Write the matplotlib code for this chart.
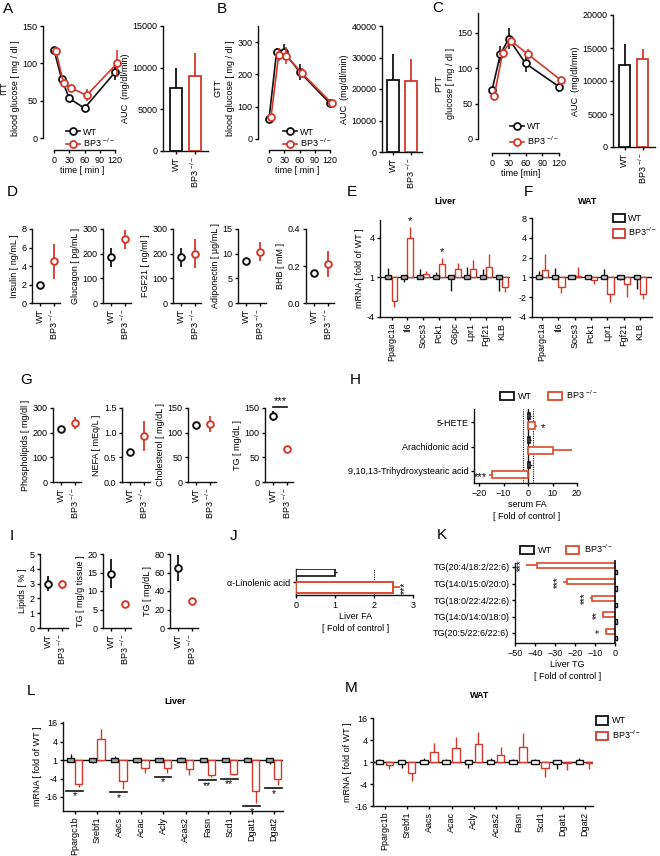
import numpy as np
import matplotlib
matplotlib.use('Agg')
import matplotlib.pyplot as plt
from matplotlib.patches import Patch
from matplotlib.lines import Line2D

plt.rcParams['font.family'] = ['Liberation Sans', 'DejaVu Sans']
plt.rcParams['mathtext.fontset'] = 'custom'
plt.rcParams['mathtext.rm'] = 'Liberation Sans'
plt.rcParams['mathtext.it'] = 'Liberation Sans:italic'
plt.rcParams['mathtext.bf'] = 'Liberation Sans:bold'
plt.rcParams['font.size'] = 6.5
plt.rcParams['axes.linewidth'] = 1.0
plt.rcParams['axes.edgecolor'] = '#111111'
plt.rcParams['xtick.major.width'] = 1.0
plt.rcParams['ytick.major.width'] = 1.0
plt.rcParams['xtick.major.size'] = 2.5
plt.rcParams['ytick.major.size'] = 2.5
plt.rcParams['xtick.major.pad'] = 1.5
plt.rcParams['ytick.major.pad'] = 1.5
plt.rcParams['axes.labelpad'] = 2

W, H = 660, 856
K = '#111111'
R = '#d4382c'
R2 = '#dc4a2c'
BP3 = 'BP3 $^{-/-}$'
BP3_SHIFT = 4

# ---------------- data ----------------
time_min = [0, 15, 30, 60, 120]
itt_wt = [118, 79, 53, 40, 88]
itt_wt_err = [3, 5, 3, 3, 10]
itt_bp3 = [116, 73, 67, 57, 100]
itt_bp3_err = [6, 4, 3, 8, 18]
itt_auc = [7600, 9000]
itt_auc_err = [2300, 2700]

gtt_wt = [62, 270, 268, 208, 110]
gtt_wt_err = [3, 10, 25, 25, 8]
gtt_bp3 = [68, 260, 258, 205, 110]
gtt_bp3_err = [4, 20, 25, 15, 6]
gtt_auc = [23000, 22500]
gtt_auc_err = [8000, 7000]

ptt_wt = [69, 120, 142, 107, 74]
ptt_wt_err = [4, 12, 15, 12, 8]
ptt_bp3 = [61, 122, 139, 120, 83]
ptt_bp3_err = [3, 4, 6, 8, 3]
ptt_auc = [12500, 13300]
ptt_auc_err = [3100, 1500]

d_labels = ['Insulin [ ng/mL ]', 'Glucagon [ pg/mL ]', 'FGF21 [ ng/ml ]',
            'Adiponectin [ \u00b5g/mL ]', 'BHB [ mM ]']
d_wt = [2.0, 185, 185, 8.6, 0.16]
d_wt_err = [0.2, 40, 40, 0.6, 0.01]
d_bp3 = [4.5, 258, 200, 10.4, 0.21]
d_bp3_err = [1.9, 38, 60, 1.9, 0.07]

g_labels = ['Phospholipids [ mg/dl ]', 'NEFA [ mEq/L ]', 'Cholesterol [ mg/dL ]', 'TG [ mg/dL ]']
g_wt = [213, 0.6, 115, 133]
g_wt_err = [6, 0.03, 5, 10]
g_bp3 = [238, 0.93, 118, 67]
g_bp3_err = [25, 0.3, 16, 6]

i_labels = ['Lipids [ % ]', 'TG [ mg/g tissue ]', 'TG [ mg/dL ]']
i_wt = [3.0, 14.7, 65]
i_wt_err = [0.5, 4, 14]
i_bp3 = [2.95, 6.6, 29]
i_bp3_err = [0.3, 0.3, 2]

# mRNA, log2 fold of WT (bar end, error-bar tip)
e_genes = ['Ppargc1a', 'Il6', 'Socs3', 'Pck1', 'G6pc', 'Lpr1', 'Fgf21', 'KLB']
e_wt = [0.0, 0.0, 0.0, 0.0, 0.0, 0.0, 0.0, 0.0]
e_wt_tip = [0.5, -0.25, 0.4, 0.25, -0.7, 0.55, 0.45, -0.7]
e_bp3 = [-1.2, 2.0, 0.15, 0.7, 0.4, 0.4, 0.55, -0.5]
e_bp3_tip = [-1.5, 2.55, 0.3, 1.0, 0.75, 0.9, 1.2, -0.75]
e_sig = ['', '*', '', '*', '', '', '', '']

f_genes = ['Ppargc1a', 'Il6', 'Socs3', 'Pck1', 'Lpr1', 'Fgf21', 'KLB']
f_wt = [0.0, 0.0, 0.0, 0.0, 0.0, 0.0, 0.0]
f_wt_tip = [0.3, 0.45, 0.0, 0.0, 0.4, -0.15, -0.6]
f_bp3 = [0.35, -0.5, 0.05, -0.15, -0.85, -0.35, -0.85]
f_bp3_tip = [1.2, -0.8, 0.55, -0.35, -1.25, -1.0, -1.1]

l_genes = ['Ppargc1b', 'Srebf1', 'Aacs', 'Acac', 'Acly', 'Acas2', 'Fasn', 'Scd1', 'Dgat1', 'Dgat2']
l_wt = [0.0] * 10
l_wt_tip = [0.65, -0.3, 0.4, -0.3, 0.1, 0.3, -0.2, 0.1, 0.3, -0.4]
l_bp3 = [-2.55, 2.25, -2.3, -0.85, -0.85, -1.0, -1.6, -1.5, -3.4, -2.0]
l_bp3_tip = [-2.9, 3.4, -3.1, -1.4, -1.4, -1.6, -1.8, -1.65, -4.6, -2.65]
l_sig = ['*', '', '*', '', '*', '', '**', '**', '*', '*']

m_genes = l_genes
m_wt = [0.0] * 10
m_wt_tip = [0.3, -0.5, 0.4, 0.3, -0.55, 0.4, 0.3, 0.3, -0.6, 0.4]
m_bp3 = [-0.3, -1.0, 0.9, 1.3, 1.65, 0.65, 1.4, -0.55, -0.1, -0.05]
m_bp3_tip = [-0.6, -1.75, 1.7, 2.25, 2.7, 1.4, 2.6, -1.35, -0.75, -0.65]

h_names = ['5-HETE', 'Arachidonic acid', '9,10,13-Trihydroxystearic acid']
h_wt = [1.0, 1.0, 1.0]
h_wt_err = [0.4, 0.4, 0.6]
h_bp3 = [2.9, 10.3, -14.5]
h_bp3_err = [0.8, 7.7, 1.5]
h_sig = ['*', '', '***']

j_names = ['\u03b1-Linolenic acid']
j_wt = [1.0]
j_wt_err = [0.06]
j_bp3 = [2.48]
j_bp3_err = [0.18]
j_sig = ['***']

k_names = ['TG(20:4/18:2/22:6)', 'TG(14:0/15:0/20:0)', 'TG(18:0/22:4/22:6)',
           'TG(14:0/14:0/18:0)', 'TG(20:5/22:6/22:6)']
k_wt = [1.0, 1.0, 1.0, 1.0, 1.0]
k_bp3 = [-39, -24, -11.5, -6, -4.5]
k_bp3_err = [5.5, 2, 1, 0.5, 0.5]
k_sig = ['***', '***', '***', '**', '*']

# ---------------- helpers ----------------
fig = plt.figure(figsize=(W / 100, H / 100), dpi=100)


def make_ax(box, xcal, ycal):
    x0, y0, x1, y1 = box
    ax = fig.add_axes([x0 / W, 1 - y1 / H, (x1 - x0) / W, (y1 - y0) / H])
    (xv1, xp1), (xv2, xp2) = xcal
    sx = (xp2 - xp1) / (xv2 - xv1)
    ax.set_xlim(xv1 + (x0 - xp1) / sx, xv1 + (x1 - xp1) / sx)
    (yv1, yp1), (yv2, yp2) = ycal
    sy = (yp2 - yp1) / (yv2 - yv1)
    ax.set_ylim(yv1 + (y1 - yp1) / sy, yv1 + (y0 - yp1) / sy)
    for s in ('top', 'right'):
        ax.spines[s].set_visible(False)
    ax.patch.set_alpha(0)
    return ax


def ftxt(x, y, s, **kw):
    fig.text(x / W, 1 - y / H, s, **kw)


def letter(x, y, s):
    ftxt(x, y, s, fontsize=11, ha='left', va='center')


def fig_legend(ax, handles, labels, x, y, **kw):
    opts = dict(loc='center left', bbox_to_anchor=(x / W, 1 - y / H),
                bbox_transform=fig.transFigure, frameon=False, borderpad=0,
                borderaxespad=0, fontsize=6.5)
    opts.update(kw)
    ax.legend(handles, labels, **opts)


def sq(c):
    return Patch(facecolor='white', edgecolor=c, lw=1.3)


def mk(c):
    return Line2D([], [], color=c, marker='o', ms=5, mfc='white', mec=c, mew=1.3, lw=1.2)


def time_panel(box, xcal, ycal, yticks, wt, wte, bp, bpe, ylabel, xlabel, leg_xy, lsp):
    ax = make_ax(box, xcal, ycal)
    t = np.array(time_min, float)
    ax.errorbar(t, wt, yerr=wte, color=K, lw=1.2, elinewidth=1.2, capsize=0, marker='o',
                ms=5, mfc='white', mec=K, mew=1.3, zorder=3, clip_on=False)
    ax.errorbar(t + BP3_SHIFT, bp, yerr=bpe, color=R, lw=1.2, elinewidth=1.2, capsize=0,
                marker='o', ms=5, mfc='white', mec=R, mew=1.3, zorder=4, clip_on=False)
    ax.spines['left'].set_bounds(0, ax.get_ylim()[1])
    ax.spines['bottom'].set_bounds(0, 120)
    ax.set_xticks([0, 30, 60, 90, 120])
    ax.set_yticks(yticks)
    ax.set_ylabel(ylabel, linespacing=1.4)
    ax.set_xlabel(xlabel, labelpad=1)
    fig_legend(ax, [mk(K), mk(R)], ['WT', BP3], leg_xy[0], leg_xy[1],
               handlelength=1.5, handletextpad=0.4, labelspacing=lsp)
    return ax


def auc_panel(box, xcal, ycal, yticks, vals, errs):
    ax = make_ax(box, xcal, ycal)
    x = np.arange(2)
    ax.bar(x, vals, width=0.66, facecolor='white', edgecolor=[K, R], lw=1.3, zorder=3)
    for xi, v, e, c in zip(x, vals, errs, [K, R]):
        ax.vlines(xi, v, v + e, color=c, lw=1.3, zorder=2)
    ax.set_xticks(x)
    ax.set_xticklabels(['WT', BP3], rotation=90)
    ax.set_yticks(yticks)
    ax.spines['left'].set_bounds(0, yticks[-1])
    ax.set_ylabel('AUC  (mg/dl/min)')
    return ax


def dot_panel(axx, ptop, pzero, vtop, yticks, ytl, wt, wte, bp, bpe, ylabel, ms=4.8):
    ax = make_ax((axx, ptop, axx + 28, pzero), ((0, axx + 8), (1, axx + 22)),
                 ((0, pzero), (vtop, ptop)))
    ax.errorbar([0], [wt], yerr=[wte], color=K, elinewidth=1.3, capsize=0, marker='o',
                ms=ms, mfc='white', mec=K, mew=1.4, zorder=3, clip_on=False)
    ax.errorbar([1], [bp], yerr=[bpe], color=R, elinewidth=1.3, capsize=0, marker='o',
                ms=ms, mfc='white', mec=R, mew=1.4, zorder=3, clip_on=False)
    ax.set_xticks([0, 1])
    ax.set_xticklabels(['WT', BP3], rotation=90)
    ax.set_yticks(yticks)
    ax.set_yticklabels(ytl)
    ax.set_ylabel(ylabel, labelpad=2)
    return ax


def mrna_panel(box, xcal, ycal, genes, wt, wt_tip, bp, bp_tip, yt, ytl, wt_fill,
               off, bw, box_px, ylabel=None):
    ax = make_ax(box, xcal, ycal)
    n = len(genes)
    x = np.arange(n)
    pxu = abs(ycal[1][1] - ycal[0][1]) / abs(ycal[1][0] - ycal[0][0])
    bh = box_px / pxu
    ax.axhline(0, color=K, lw=1.0, zorder=2)
    ax.vlines(x + off[0], wt, wt_tip, color=K, lw=1.0, zorder=3)
    ax.bar(x + off[0], bh, bottom=np.array(wt) - bh / 2, width=bw, facecolor=wt_fill,
           edgecolor=K, lw=1.0, zorder=4)
    ax.bar(x + off[1], bp, width=bw, facecolor='white', edgecolor=R, lw=1.0, zorder=3)
    ax.vlines(x + off[1], bp, bp_tip, color=R, lw=1.0, zorder=3)
    ax.set_xticks(x)
    ax.set_xticklabels(genes, rotation=90)
    ax.set_yticks(yt)
    ax.set_yticklabels(ytl)
    if ylabel:
        ax.set_ylabel(ylabel)
    return ax, x, bh


# ---------------- row 1: A, B, C ----------------
letter(3, 9, 'A')
letter(217, 9, 'B')
letter(432, 8, 'C')

time_panel((43, 26, 122, 150), ((0, 54), (120, 115)), ((0, 138), (150, 26)),
           [0, 50, 100, 150], itt_wt, itt_wt_err, itt_bp3, itt_bp3_err,
           'ITT\nblood glucose [ mg / dl ]', 'time [ min ]', (66, 138.5), 0.05)
auc_panel((163, 26, 208, 151), ((0, 176), (1, 195)), ((0, 151), (15000, 26)),
          [0, 5000, 10000, 15000], itt_auc, itt_auc_err)

time_panel((258, 26, 337, 150), ((0, 269), (120, 330)), ((0, 139), (300, 42)),
           [0, 100, 200, 300], gtt_wt, gtt_wt_err, gtt_bp3, gtt_bp3_err,
           'GTT\nblood glucose [ mg / dl ]', 'time [ min ]', (283, 138.5), 0.05)
auc_panel((382, 26, 422, 152), ((0, 393), (1, 411)), ((0, 152), (40000, 26)),
          [0, 10000, 20000, 30000, 40000], gtt_auc, gtt_auc_err)

time_panel((478, 13, 564, 153), ((0, 492), (120, 559)), ((0, 139), (150, 33)),
           [0, 50, 100, 150], ptt_wt, ptt_wt_err, ptt_bp3, ptt_bp3_err,
           'PTT\nglucose [ mg / dl ]', 'time [min]', (510, 134.5), 0.45)
auc_panel((613, 15, 655, 147), ((0, 624.5), (1, 642.5)), ((0, 147), (20000, 15)),
          [0, 5000, 10000, 15000, 20000], ptt_auc, ptt_auc_err)

# ---------------- row 2: D, E, F ----------------
letter(7, 192, 'D')
d_axx = [32, 103, 173, 238, 306]
d_top = [8, 300, 300, 15, 0.4]
d_ticks = [[0, 2, 4, 6, 8], [0, 100, 200, 300], [0, 100, 200, 300], [0, 5, 10, 15], [0.0, 0.2, 0.4]]
d_tl = [['0', '2', '4', '6', '8'], ['0', '100', '200', '300'], ['0', '100', '200', '300'],
        ['0', '5', '10', '15'], ['0.0', '0.2', '0.4']]
for i in range(5):
    dot_panel(d_axx[i], 229, 303, d_top[i], d_ticks[i], d_tl[i], d_wt[i], d_wt_err[i],
              d_bp3[i], d_bp3_err[i], d_labels[i])

letter(347, 192, 'E')
letter(524, 192, 'F')
ftxt(445, 202, 'Liver', ha='center', va='center', weight='bold')
ftxt(588, 202, 'WAT', ha='center', va='center', weight='bold')

axE, xE, _ = mrna_panel((380, 220, 510, 317), ((0, 391.5), (7, 502)), ((0, 278), (2, 238)),
                        e_genes, e_wt, e_wt_tip, e_bp3, e_bp3_tip, [2, 0, -2], ['4', '1', '-4'],
                        '#a8a8a8', (-0.2, 0.19), 0.38, 4, ylabel='mRNA [ fold of WT ]')
for xi, tip, s in zip(xE, e_bp3_tip, e_sig):
    if s:
        axE.text(xi + 0.19, tip + 0.05, s, ha='center', va='bottom', fontsize=8)

axF, xF, _ = mrna_panel((532, 218, 652, 317), ((0, 542), (6, 640)), ((0, 278), (2, 238)),
                        f_genes, f_wt, f_wt_tip, f_bp3, f_bp3_tip,
                        [3, 2, 1, 0, -1, -2], ['8', '4', '2', '1', '-2', '-4'],
                        '#c8c8c8', (-0.2, 0.19), 0.38, 4)
fig_legend(axF, [sq(K), sq(R)], ['WT', 'BP3$^{-/-}$'], 613, 226,
           handlelength=1.3, handleheight=1.1, handletextpad=0.4, labelspacing=0.35)

# ---------------- row 3: G, H ----------------
letter(20, 380, 'G')
g_axx = [53, 122, 188, 265]
g_top = [300, 1.5, 150, 150]
g_ticks = [[0, 100, 200, 300], [0, 0.5, 1.0, 1.5], [0, 50, 100, 150], [0, 50, 100, 150]]
g_tl = [['0', '100', '200', '300'], ['0.0', '0.5', '1.0', '1.5'], ['0', '50', '100', '150'],
        ['0', '50', '100', '150']]
g_axes = []
for i in range(4):
    g_axes.append(dot_panel(g_axx[i], 408, 482, g_top[i], g_ticks[i], g_tl[i], g_wt[i],
                            g_wt_err[i], g_bp3[i], g_bp3_err[i], g_labels[i]))
axTG = g_axes[3]
axTG.plot([0, 1], [152, 152], color=K, lw=1.2, clip_on=False)
axTG.text(0.5, 153, '***', ha='center', va='bottom', fontsize=8, clip_on=False)

letter(350, 380, 'H')
axH = make_ax((474, 409, 580, 483), ((0, 528), (20, 577)), ((0, 422), (1, 446.5)))
yc = np.arange(3)
axH.axvline(0, color=K, lw=1.0, zorder=2)
for v in (-2, 2):
    axH.axvline(v, color=K, lw=0.8, ls=(0, (1, 1)), zorder=1)
axH.barh(yc - 0.25, h_wt, height=0.25, facecolor='white', edgecolor=K, lw=1.2, zorder=3)
axH.hlines(yc - 0.25, h_wt, np.array(h_wt) + np.array(h_wt_err), color=K, lw=1.0, zorder=3)
h_tip = np.array(h_bp3) + np.sign(h_bp3) * np.array(h_bp3_err)
axH.barh(yc + 0.15, h_bp3, height=0.3, facecolor='white', edgecolor=R2, lw=1.2, zorder=3)
axH.hlines(yc + 0.15, h_bp3, h_tip, color=R2, lw=1.2, zorder=3)
for yi, tip, s in zip(yc, h_tip, h_sig):
    if s:
        if tip > 0:
            axH.text(tip + 1.5, yi + 0.25, s, ha='left', va='center', fontsize=8)
        else:
            axH.text(tip - 0.8, yi + 0.25, s, ha='right', va='center', fontsize=8)
axH.set_yticks(yc)
axH.set_yticklabels(h_names)
axH.set_xticks([-20, -10, 0, 10, 20])
axH.spines['bottom'].set_bounds(axH.get_xlim()[0], 20)
axH.set_xlabel('serum FA\n[ Fold of control ]', linespacing=1.4)
fig_legend(axH, [sq(K), sq(R2)], ['WT', BP3], 500, 395, ncol=2,
           handlelength=1.5, handleheight=1.1, handletextpad=0.5, columnspacing=1.8)

# ---------------- row 4: I, J, K ----------------
letter(10, 536, 'I')
i_axx = [40, 103, 170]
i_top = [5, 20, 80]
i_ticks = [[0, 1, 2, 3, 4, 5], [0, 5, 10, 15, 20], [0, 20, 40, 60, 80]]
i_tl = [['0', '1', '2', '3', '4', '5'], ['0', '5', '10', '15', '20'], ['0', '20', '40', '60', '80']]
for i in range(3):
    dot_panel(i_axx[i], 554, 628, i_top[i], i_ticks[i], i_tl[i], i_wt[i], i_wt_err[i],
              i_bp3[i], i_bp3_err[i], i_labels[i])

letter(230, 536, 'J')
axJ = make_ax((296, 569, 416, 595), ((0, 296), (3, 413)), ((0, 582), (1, 606.5)))
yj = np.arange(1)
axJ.axvline(2, color=K, lw=0.8, ls=(0, (1, 1)), zorder=1)
axJ.barh(yj - 0.4, j_wt, height=0.28, facecolor='white', edgecolor=K, lw=1.2, zorder=3)
axJ.hlines(yj - 0.4, j_wt, np.array(j_wt) + np.array(j_wt_err), color=K, lw=1.0)
axJ.barh(yj + 0.22, j_bp3, height=0.45, facecolor='white', edgecolor=R2, lw=1.4, zorder=3)
j_tip = np.array(j_bp3) + np.array(j_bp3_err)
axJ.hlines(yj + 0.22, j_bp3, j_tip, color=R2, lw=1.2)
for yi, tip, s in zip(yj, j_tip, j_sig):
    axJ.text(tip + 0.12, yi + 0.22, s, rotation=90, ha='center', va='center', fontsize=7.5)
axJ.set_yticks(yj)
axJ.set_yticklabels(j_names)
axJ.set_xticks([0, 1, 2, 3])
axJ.spines['bottom'].set_bounds(0, 3)
axJ.set_xlabel('Liver FA\n[ Fold of control ]', linespacing=1.4)

letter(437, 535, 'K')
axK = make_ax((515, 560, 620, 643), ((-50, 515), (0, 615)), ((0, 567), (1, 583.5)))
yk = np.arange(5)
axK.axvline(0, color=K, lw=1.2, zorder=4)
axK.barh(yk - 0.1, k_bp3, height=0.3, facecolor='white', edgecolor=R2, lw=1.2, zorder=3)
k_tip = np.array(k_bp3) - np.array(k_bp3_err)
axK.hlines(yk - 0.1, k_bp3, k_tip, color=R2, lw=1.2, zorder=3)
axK.barh(yk + 0.3, k_wt, height=0.25, facecolor='white', edgecolor=K, lw=1.0, zorder=3)
for yi, tip, s in zip(yk, k_tip, k_sig):
    axK.text(tip - 2.6, yi - 0.1, s, rotation=90, ha='center', va='center', fontsize=7)
axK.set_yticks(yk)
axK.set_yticklabels(k_names)
axK.set_xticks([-50, -40, -30, -20, -10, 0])
axK.spines['left'].set_bounds(axK.get_ylim()[0], -0.25)
axK.spines['bottom'].set_bounds(-50, 0)
axK.set_xlabel('Liver TG\n[ Fold of control ]', linespacing=1.4)
fig_legend(axK, [sq(K), sq(R2)], ['WT', 'BP3$^{-/-}$'], 520, 549, ncol=2,
           handlelength=1.5, handleheight=1.1, handletextpad=0.5, columnspacing=1.5)

# ---------------- row 5: L, M ----------------
letter(27, 691, 'L')
ftxt(175, 702, 'Liver', ha='center', va='center', weight='bold')
axL, xL, _ = mrna_panel((63, 722, 283, 811), ((0, 75), (9, 274)), ((0, 760), (4, 723)),
                        l_genes, l_wt, l_wt_tip, l_bp3, l_bp3_tip, [4, 2, 0, -2, -4],
                        ['16', '4', '1', '-4', '-16'], '#a8a8a8', (-0.2, 0.17), 0.33, 4,
                        ylabel='mRNA [ fold of WT ]')
for xi, tip, s in zip(xL, l_bp3_tip, l_sig):
    if s:
        yl = tip - 0.4
        axL.plot([xi - 0.4, xi + 0.36], [yl, yl], color=K, lw=1.2, zorder=5)
        axL.text(xi - 0.02, yl - 0.05, s, ha='center', va='top', fontsize=7.5)

letter(345, 688, 'M')
ftxt(480, 696, 'WAT', ha='center', va='center', weight='bold')
axM, xM, _ = mrna_panel((373, 718, 593, 806), ((0, 385), (9, 585)), ((0, 762), (4, 718)),
                        m_genes, m_wt, m_wt_tip, m_bp3, m_bp3_tip, [4, 2, 0, -2, -4],
                        ['16', '4', '1', '-4', '-16'], 'white', (-0.25, 0.2), 0.34, 4,
                        ylabel='mRNA [ fold of WT ]')
fig_legend(axM, [sq(K), sq(R)], ['WT', 'BP3$^{-/-}$'], 596, 728.5,
           handlelength=1.3, handleheight=1.1, handletextpad=0.5, labelspacing=0.35)

fig.savefig('out.png', dpi=100)
